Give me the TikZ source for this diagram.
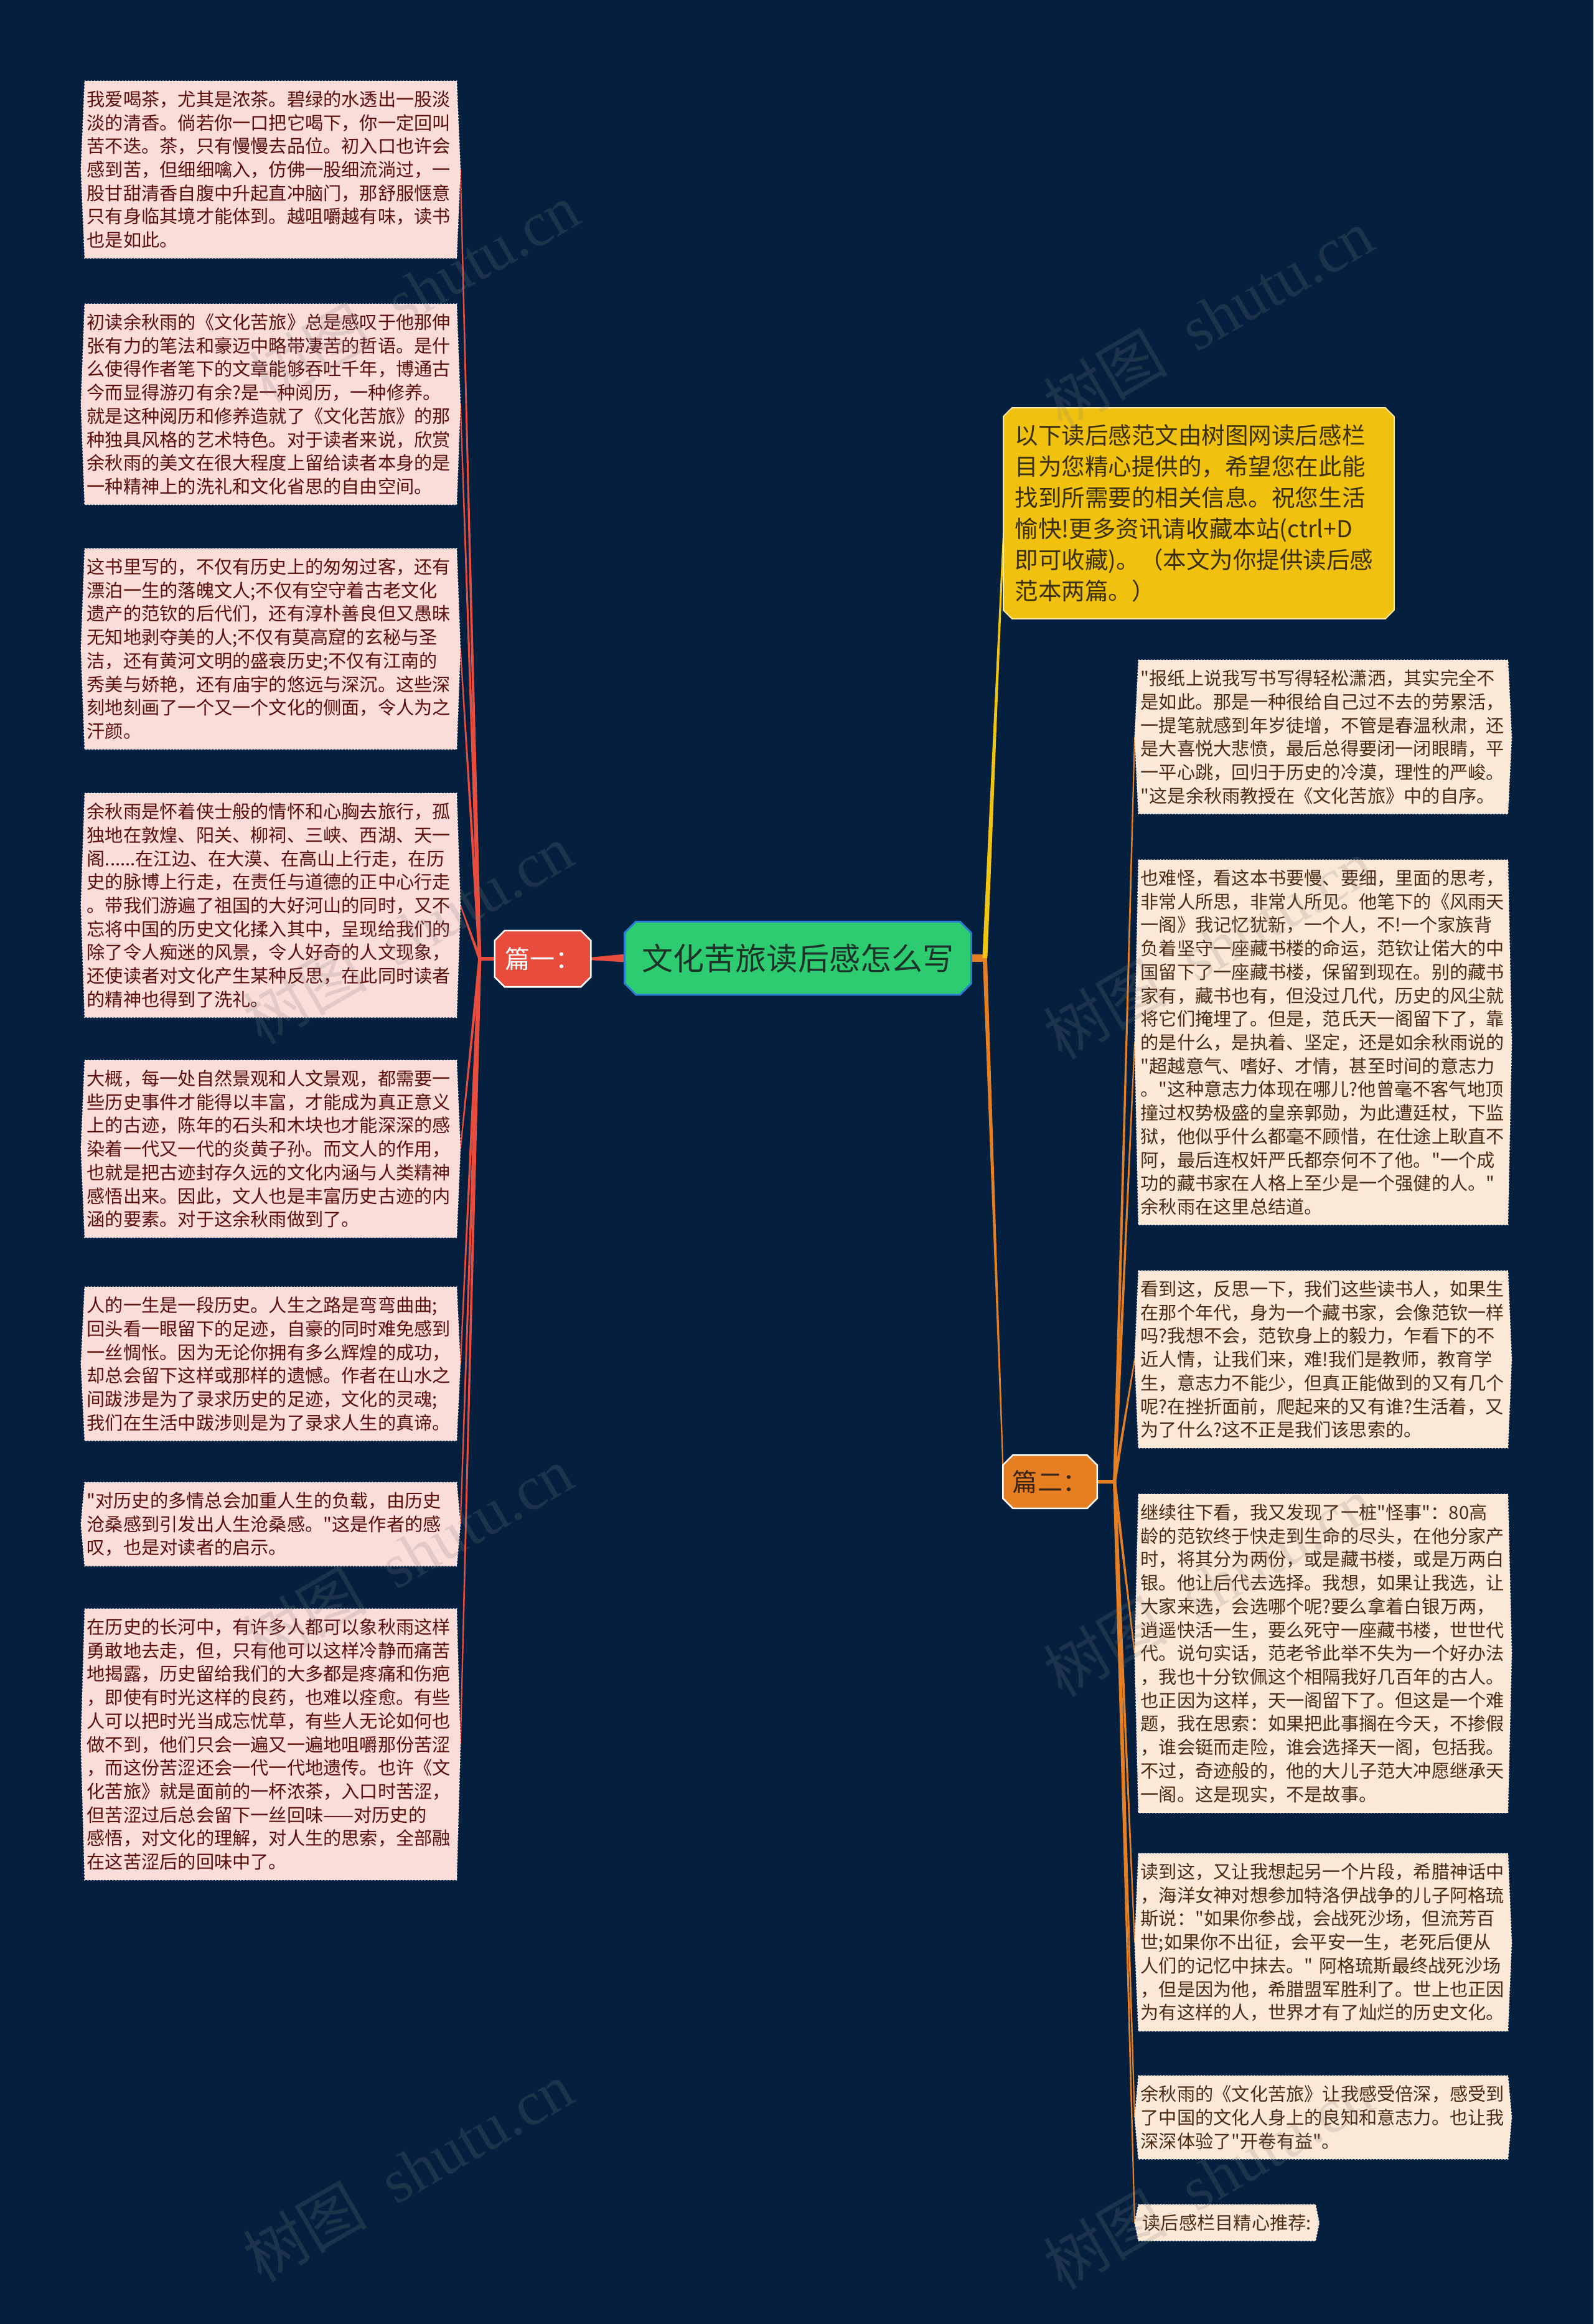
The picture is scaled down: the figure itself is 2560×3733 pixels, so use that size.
\documentclass[tikz,border=0pt]{standalone}
\usepackage{fontspec}
\setmainfont{Noto Sans CJK SC}[Ligatures=TeXOff]
\newfontfamily\wmlatin{Liberation Serif}
\usetikzlibrary{calc}
\pgfdeclarelayer{bglayer}
\pgfdeclarelayer{edgelayer}
\pgfdeclarelayer{boxlayer}
\pgfdeclarelayer{wmlayer}
\pgfsetlayers{bglayer,edgelayer,boxlayer,main,wmlayer}
\definecolor{bgnavy}{HTML}{04203E}
\definecolor{lfill}{HTML}{FADCD9}
\definecolor{ltext}{HTML}{5A0E0E}
\definecolor{rfill}{HTML}{FCE8D7}
\definecolor{rtext}{HTML}{4B2A14}
\definecolor{yfill}{HTML}{F0C20F}
\definecolor{ytext}{HTML}{3B2F0A}
\definecolor{yborder}{HTML}{FBE9A6}
\definecolor{gfill}{HTML}{2ECC71}
\definecolor{gborder}{HTML}{2C7FD0}
\definecolor{gtext}{HTML}{1D3329}
\definecolor{redc}{HTML}{E74C3C}
\definecolor{orc}{HTML}{E67E22}
\definecolor{yline}{HTML}{F1C40F}
\definecolor{p2text}{HTML}{3A2410}
\newcommand\hexshape[2]{\path[#2] (#1.north west) -- (#1.north east) -- ($(#1.east)+(6,0)$) -- (#1.south east) -- (#1.south west) -- ($(#1.west)+(-6,0)$) -- cycle;}
\newcommand\octshape[3]{\path[#3] ($(#1.north west)+(#2,0)$) -- ($(#1.north east)+(-#2,0)$) -- ($(#1.north east)+(0,#2)$) -- ($(#1.south east)+(0,-#2)$) -- ($(#1.south east)+(-#2,0)$) -- ($(#1.south west)+(#2,0)$) -- ($(#1.south west)+(0,-#2)$) -- ($(#1.north west)+(0,#2)$) -- cycle;}
\newcommand\taperline[5]{\path[fill=#5] ($(#1)!#3!90:(#2)$) -- ($(#1)!#3!-90:(#2)$) -- ($(#2)!#4!90:(#1)$) -- ($(#2)!#4!-90:(#1)$) -- cycle;}
\tikzset{
  lbox/.style={anchor=north west, text width=5.90cm, inner xsep=0.03cm, inner ysep=0.15cm, align=left, text=ltext, font=\fontsize{0.292cm}{0.377cm}\selectfont},
  rbox/.style={lbox, text width=5.86cm, text=rtext},
  lshape/.style={fill=lfill, draw=white, densely dotted, line width=0.015cm},
  rshape/.style={fill=rfill, draw=white, densely dotted, line width=0.015cm},
  wm/.style={rotate=30, text=gray, text opacity=0.2, font=\fontsize{1.0cm}{1.2cm}\selectfont}
}
\begin{document}
\begin{tikzpicture}[x=0.01cm, y=-0.01cm]
\useasboundingbox (0,0) rectangle (2560,3733);
\begin{pgfonlayer}{bglayer}
\fill[bgnavy] (0,0) rectangle (2560,3733);
\end{pgfonlayer}

% central and branch nodes
\node[minimum width=5.55cm, minimum height=1.16cm, inner sep=0, text=gtext, font=\fontsize{0.50cm}{0.6cm}\selectfont] (C) at (1282,1539) {文化苦旅读后感怎么写};
\node[minimum width=1.53cm, minimum height=0.89cm, inner sep=0, text=white, font=\fontsize{0.40cm}{0.5cm}\selectfont] (P1) at (872,1540) {篇一：};
\node[minimum width=1.50cm, minimum height=0.84cm, inner sep=0, text=p2text, font=\fontsize{0.40cm}{0.5cm}\selectfont] (P2) at (1687,2380) {篇二：};
\node[anchor=north west, text width=5.90cm, inner xsep=0.18cm, inner ysep=0.26cm, align=left, text=ytext, font=\fontsize{0.375cm}{0.50cm}\selectfont] (Y) at (1612,655) {以下读后感范文由树图网读后感栏\\目为您精心提供的，希望您在此能\\找到所需要的相关信息。祝您生活\\愉快!更多资讯请收藏本站(ctrl+D\\即可收藏)。（本文为你提供读后感\\范本两篇。）};

% left boxes
\node[lbox] (L1) at (136,130) {我爱喝茶，尤其是浓茶。碧绿的水透出一股淡\\淡的清香。倘若你一口把它喝下，你一定回叫\\苦不迭。茶，只有慢慢去品位。初入口也许会\\感到苦，但细细噙入，仿佛一股细流淌过，一\\股甘甜清香自腹中升起直冲脑门，那舒服惬意\\只有身临其境才能体到。越咀嚼越有味，读书\\也是如此。};
\node[lbox] (L2) at (136,488) {初读余秋雨的《文化苦旅》总是感叹于他那伸\\张有力的笔法和豪迈中略带凄苦的哲语。是什\\么使得作者笔下的文章能够吞吐千年，博通古\\今而显得游刃有余?是一种阅历，一种修养。\\就是这种阅历和修养造就了《文化苦旅》的那\\种独具风格的艺术特色。对于读者来说，欣赏\\余秋雨的美文在很大程度上留给读者本身的是\\一种精神上的洗礼和文化省思的自由空间。};
\node[lbox] (L3) at (136,881) {这书里写的，不仅有历史上的匆匆过客，还有\\漂泊一生的落魄文人;不仅有空守着古老文化\\遗产的范钦的后代们，还有淳朴善良但又愚昧\\无知地剥夺美的人;不仅有莫高窟的玄秘与圣\\洁，还有黄河文明的盛衰历史;不仅有江南的\\秀美与娇艳，还有庙宇的悠远与深沉。这些深\\刻地刻画了一个又一个文化的侧面，令人为之\\汗颜。};
\node[lbox] (L4) at (136,1274) {余秋雨是怀着侠士般的情怀和心胸去旅行，孤\\独地在敦煌、阳关、柳祠、三峡、西湖、天一\\阁......在江边、在大漠、在高山上行走，在历\\史的脉博上行走，在责任与道德的正中心行走\\。带我们游遍了祖国的大好河山的同时，又不\\忘将中国的历史文化揉入其中，呈现给我们的\\除了令人痴迷的风景，令人好奇的人文现象，\\还使读者对文化产生某种反思，在此同时读者\\的精神也得到了洗礼。};
\node[lbox] (L5) at (136,1703) {大概，每一处自然景观和人文景观，都需要一\\些历史事件才能得以丰富，才能成为真正意义\\上的古迹，陈年的石头和木块也才能深深的感\\染着一代又一代的炎黄子孙。而文人的作用，\\也就是把古迹封存久远的文化内涵与人类精神\\感悟出来。因此，文人也是丰富历史古迹的内\\涵的要素。对于这余秋雨做到了。};
\node[lbox] (L6) at (136,2067) {人的一生是一段历史。人生之路是弯弯曲曲;\\回头看一眼留下的足迹，自豪的同时难免感到\\一丝惆怅。因为无论你拥有多么辉煌的成功，\\却总会留下这样或那样的遗憾。作者在山水之\\间跋涉是为了录求历史的足迹，文化的灵魂;\\我们在生活中跋涉则是为了录求人生的真谛。};
\node[lbox] (L7) at (136,2381) {"对历史的多情总会加重人生的负载，由历史\\沧桑感到引发出人生沧桑感。"这是作者的感\\叹，也是对读者的启示。};
\node[lbox] (L8) at (136,2584) {在历史的长河中，有许多人都可以象秋雨这样\\勇敢地去走，但，只有他可以这样冷静而痛苦\\地揭露，历史留给我们的大多都是疼痛和伤疤\\，即使有时光这样的良药，也难以痊愈。有些\\人可以把时光当成忘忧草，有些人无论如何也\\做不到，他们只会一遍又一遍地咀嚼那份苦涩\\，而这份苦涩还会一代一代地遗传。也许《文\\化苦旅》就是面前的一杯浓茶，入口时苦涩，\\但苦涩过后总会留下一丝回味——对历史的\\感悟，对文化的理解，对人生的思索，全部融\\在这苦涩后的回味中了。};

% right boxes
\node[rbox] (R1) at (1829,1060) {"报纸上说我写书写得轻松潇洒，其实完全不\\是如此。那是一种很给自己过不去的劳累活，\\一提笔就感到年岁徒增，不管是春温秋肃，还\\是大喜悦大悲愤，最后总得要闭一闭眼睛，平\\一平心跳，回归于历史的冷漠，理性的严峻。\\"这是余秋雨教授在《文化苦旅》中的自序。};
\node[rbox] (R2) at (1829,1381) {也难怪，看这本书要慢、要细，里面的思考，\\非常人所思，非常人所见。他笔下的《风雨天\\一阁》我记忆犹新，一个人，不!一个家族背\\负着坚守一座藏书楼的命运，范钦让偌大的中\\国留下了一座藏书楼，保留到现在。别的藏书\\家有，藏书也有，但没过几代，历史的风尘就\\将它们掩埋了。但是，范氏天一阁留下了，靠\\的是什么，是执着、坚定，还是如余秋雨说的\\"超越意气、嗜好、才情，甚至时间的意志力\\。"这种意志力体现在哪儿?他曾毫不客气地顶\\撞过权势极盛的皇亲郭勋，为此遭廷杖，下监\\狱，他似乎什么都毫不顾惜，在仕途上耿直不\\阿，最后连权奸严氏都奈何不了他。"一个成\\功的藏书家在人格上至少是一个强健的人。"\\余秋雨在这里总结道。};
\node[rbox] (R3) at (1829,2041) {看到这，反思一下，我们这些读书人，如果生\\在那个年代，身为一个藏书家，会像范钦一样\\吗?我想不会，范钦身上的毅力，乍看下的不\\近人情，让我们来，难!我们是教师，教育学\\生，意志力不能少，但真正能做到的又有几个\\呢?在挫折面前，爬起来的又有谁?生活着，又\\为了什么?这不正是我们该思索的。};
\node[rbox] (R4) at (1829,2400) {继续往下看，我又发现了一桩"怪事"：80高\\龄的范钦终于快走到生命的尽头，在他分家产\\时，将其分为两份，或是藏书楼，或是万两白\\银。他让后代去选择。我想，如果让我选，让\\大家来选，会选哪个呢?要么拿着白银万两，\\逍遥快活一生，要么死守一座藏书楼，世世代\\代。说句实话，范老爷此举不失为一个好办法\\，我也十分钦佩这个相隔我好几百年的古人。\\也正因为这样，天一阁留下了。但这是一个难\\题，我在思索：如果把此事搁在今天，不掺假\\，谁会铤而走险，谁会选择天一阁，包括我。\\不过，奇迹般的，他的大儿子范大冲愿继承天\\一阁。这是现实，不是故事。};
\node[rbox] (R5) at (1829,2977) {读到这，又让我想起另一个片段，希腊神话中\\，海洋女神对想参加特洛伊战争的儿子阿格琉\\斯说："如果你参战，会战死沙场，但流芳百\\世;如果你不出征，会平安一生，老死后便从\\人们的记忆中抹去。"~阿格琉斯最终战死沙场\\，但是因为他，希腊盟军胜利了。世上也正因\\为有这样的人，世界才有了灿烂的历史文化。};
\node[rbox] (R6) at (1829,3334) {余秋雨的《文化苦旅》让我感受倍深，感受到\\了中国的文化人身上的良知和意志力。也让我\\深深体验了"开卷有益"。};
\node[anchor=north west, inner xsep=0.06cm, inner ysep=0.15cm, text=rtext, font=\fontsize{0.292cm}{0.377cm}\selectfont] (R7) at (1829,3541) {读后感栏目精心推荐:};

% hub coordinates
\coordinate (p1hub) at ($(P1.west)+(-24,0)$);
\coordinate (chub) at ($(C.east)+(22,0)$);
\coordinate (p2hub) at ($(P2.east)+(28,0)$);
\coordinate (Yend) at (Y.187);
\coordinate (P2end) at (P2.160);

% connectors
\begin{pgfonlayer}{edgelayer}
\taperline{C.west}{P1.east}{0.065cm}{0.022cm}{redc}
\draw[redc, line width=0.06cm] (P1.west) -- (p1hub);
\foreach \n in {L1,L2,L3,L4,L5,L6,L7,L8} {
  \coordinate (\n-e) at ($(\n.east)+(6,0)$);
  \taperline{p1hub}{\n-e}{0.025cm}{0.01cm}{redc}
}
\draw[orc, line width=0.12cm] (C.east) -- (chub);
\taperline{chub}{P2end}{0.035cm}{0.01cm}{orc}
\taperline{chub}{Yend}{0.04cm}{0.012cm}{yline}
\draw[orc, line width=0.06cm] (P2.east) -- (p2hub);
\foreach \n in {R1,R2,R3,R4,R5,R6,R7} {
  \coordinate (\n-w) at ($(\n.west)+(-6,0)$);
  \taperline{p2hub}{\n-w}{0.025cm}{0.01cm}{orc}
}
\end{pgfonlayer}

% box shapes
\begin{pgfonlayer}{boxlayer}
\foreach \n in {L1,L2,L3,L4,L5,L6,L7,L8} {\hexshape{\n}{lshape}}
\foreach \n in {R1,R2,R3,R4,R5,R6,R7} {\hexshape{\n}{rshape}}
\octshape{Y}{14}{fill=yfill, draw=yborder, line width=0.02cm}
\octshape{C}{18}{fill=gfill, draw=gborder, line width=0.03cm}
\octshape{P1}{16}{fill=redc, draw=white, line width=0.025cm}
\octshape{P2}{16}{fill=orc, draw=white, line width=0.025cm}
\end{pgfonlayer}

% watermarks
\begin{pgfonlayer}{wmlayer}
\node[wm] (wm1) at (665,470) {树图\hspace{0.5em}{\wmlatin shutu.cn}};
\node[wm] (wm2) at (1941,512) {树图\hspace{0.5em}{\wmlatin shutu.cn}};
\node[wm] (wm3) at (655,1500) {树图\hspace{0.5em}{\wmlatin shutu.cn}};
\node[wm] (wm4) at (1941,1524) {树图\hspace{0.5em}{\wmlatin shutu.cn}};
\node[wm] (wm5) at (655,2500) {树图\hspace{0.5em}{\wmlatin shutu.cn}};
\node[wm] (wm6) at (1941,2548) {树图\hspace{0.5em}{\wmlatin shutu.cn}};
\node[wm] (wm7) at (655,3488) {树图\hspace{0.5em}{\wmlatin shutu.cn}};
\node[wm] (wm8) at (1941,3500) {树图\hspace{0.5em}{\wmlatin shutu.cn}};
\end{pgfonlayer}
\end{tikzpicture}
\end{document}
